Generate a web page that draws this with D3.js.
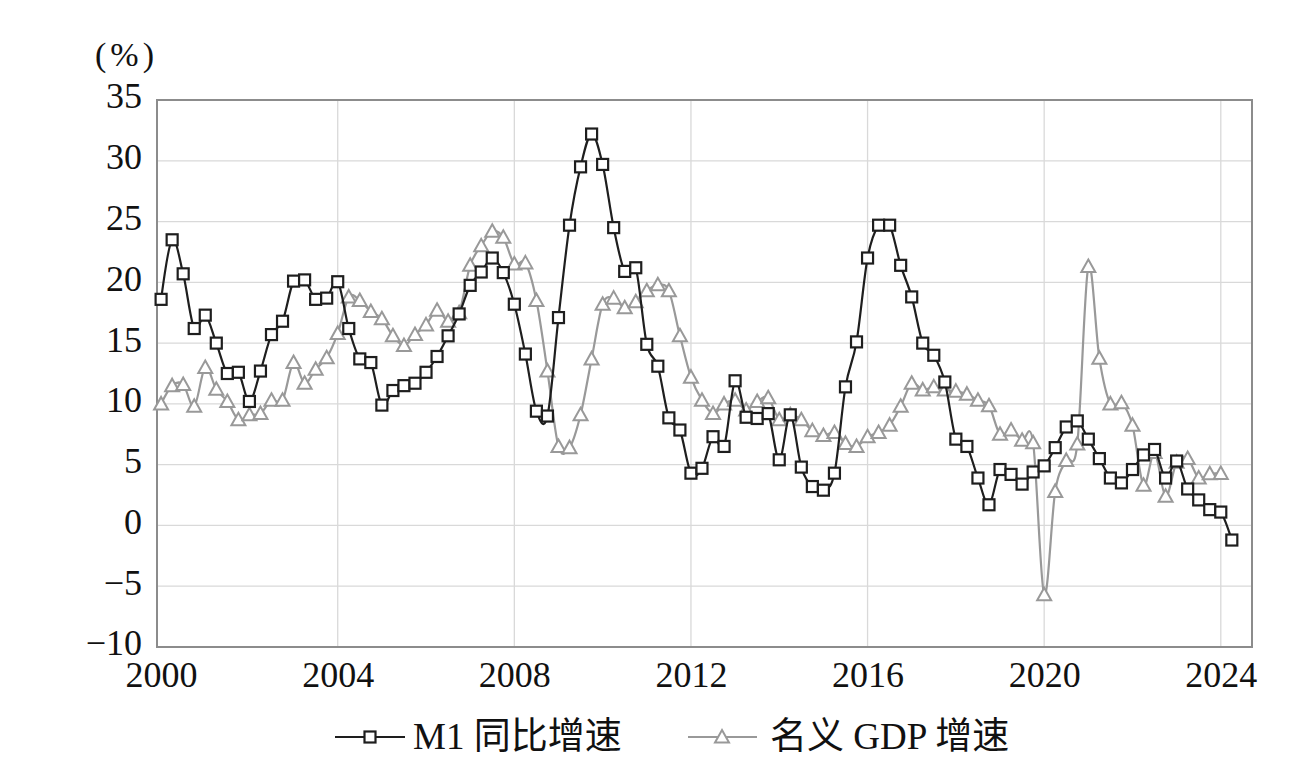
<!DOCTYPE html>
<html>
<head>
<meta charset="utf-8">
<script src="https://cdn.jsdelivr.net/npm/d3@7"></script>
<style>
  html, body { margin: 0; padding: 0; background: #ffffff; }
  svg { display: block; }
  text { font-family: "Liberation Serif", "Noto Sans CJK SC", serif; fill: #111111; }
</style>
</head>
<body>
<svg id="chart" width="1299" height="773"></svg>
<script>
// ---------------- DATA ----------------
const startYear = 2000;          // first quarter plotted (2000 Q1)
const quarterStep = 0.25;        // quarterly data
const seriesNames = ["M1 同比增速", "名义 GDP 增速"];
const yTicks = [-10, -5, 0, 5, 10, 15, 20, 25, 30, 35];
const yTickLabels = ["−10", "−5", "0", "5", "10", "15", "20", "25", "30", "35"];
const xTicks = [2000, 2004, 2008, 2012, 2016, 2020, 2024];
const xTickLabels = ["2000", "2004", "2008", "2012", "2016", "2020", "2024"];
const unitLabel = "(%)";

// M1 year-on-year growth, 2000Q1 – 2024Q2
const m1Values = [
  18.6, 23.5, 20.7, 16.2,
  17.3, 15.0, 12.5, 12.6,
  10.2, 12.7, 15.7, 16.8,
  20.1, 20.2, 18.6, 18.7,
  20.05, 16.2, 13.7, 13.4,
  9.9, 11.1, 11.5, 11.7,
  12.6, 13.9, 15.6, 17.4,
  19.75, 20.85, 22.0, 20.8,
  18.2, 14.1, 9.4, 9.0,
  17.1, 24.7, 29.5, 32.2,
  29.7, 24.5, 20.9, 21.2,
  14.9, 13.1, 8.85, 7.85,
  4.3, 4.7, 7.3, 6.5,
  11.9, 8.9, 8.8, 9.2,
  5.4, 9.1, 4.8, 3.2,
  2.9, 4.3, 11.4, 15.1,
  22.0, 24.7, 24.7, 21.4,
  18.8, 15.0, 14.0, 11.8,
  7.1, 6.5, 3.9, 1.7,
  4.6, 4.2, 3.4, 4.4,
  4.9, 6.4, 8.1, 8.6,
  7.1, 5.5, 3.9, 3.5,
  4.6, 5.8, 6.25, 3.9,
  5.3, 3.0, 2.1, 1.3,
  1.1, -1.2
];

// Nominal GDP growth, 2000Q1 – 2024Q1
const gdpValues = [
  10.0, 11.5, 11.6, 9.8,
  13.0, 11.2, 10.2, 8.7,
  9.1, 9.2, 10.3, 10.3,
  13.4, 11.7, 12.85, 13.8,
  15.8, 18.8, 18.5, 17.6,
  17.0, 15.6, 14.8, 15.7,
  16.5, 17.7, 16.8, 17.5,
  21.4, 23.0, 24.2, 23.7,
  21.5, 21.6, 18.5, 12.7,
  6.5, 6.4, 9.1, 13.7,
  18.2, 18.7, 17.9, 18.4,
  19.3, 19.8, 19.3, 15.6,
  12.2, 10.3, 9.2, 10.0,
  10.3, 9.5, 10.2, 10.5,
  8.7, 9.1, 8.7, 7.8,
  7.4, 7.65, 6.75, 6.5,
  7.3, 7.65, 8.25, 9.8,
  11.7, 11.15, 11.4, 11.15,
  11.05, 10.8, 10.3, 9.85,
  7.5, 7.85, 7.0, 6.8,
  -5.7, 2.8, 5.35, 6.7,
  21.3, 13.75, 10.0, 10.1,
  8.25, 3.3, 6.0, 2.4,
  5.2, 5.5, 3.9, 4.25,
  4.27
];

// ---------------- CHART ----------------
const svg = d3.select("#chart");
const plot = { left: 157, right: 1252, top: 100, bottom: 647 };

const x = d3.scaleLinear().domain([1999.907, 2024.707]).range([plot.left, plot.right]);
const y = d3.scaleLinear().domain([-10, 35]).range([plot.bottom, plot.top]);

const toPoints = vals => vals.map((v, i) => ({ t: startYear + i * quarterStep, v }));
const m1 = toPoints(m1Values);
const gdp = toPoints(gdpValues);

// gridlines
const grid = svg.append("g");
grid.selectAll("line.h").data(yTicks).enter().append("line")
  .attr("x1", plot.left).attr("x2", plot.right)
  .attr("y1", d => y(d)).attr("y2", d => y(d))
  .attr("stroke", "#d9d9d9").attr("stroke-width", 1.3);
grid.selectAll("line.v").data(xTicks.filter(d => d > startYear)).enter().append("line")
  .attr("y1", plot.top).attr("y2", plot.bottom)
  .attr("x1", d => x(d)).attr("x2", d => x(d))
  .attr("stroke", "#d9d9d9").attr("stroke-width", 1.3);

// plot border
svg.append("rect")
  .attr("x", plot.left).attr("y", plot.top)
  .attr("width", plot.right - plot.left).attr("height", plot.bottom - plot.top)
  .attr("fill", "none").attr("stroke", "#8c8c8c").attr("stroke-width", 2);

// axes (labels only)
const yAxis = d3.axisLeft(y).tickValues(yTicks).tickSize(0).tickPadding(15)
  .tickFormat((d, i) => yTickLabels[i]);
const gy = svg.append("g").attr("transform", `translate(${plot.left},0)`).call(yAxis);
gy.select(".domain").remove();
gy.selectAll("text").attr("font-size", 36).attr("dy", "0.22em")
  .style("font-family", '"Liberation Serif", serif').attr("fill", "#111");

const xAxis = d3.axisBottom(x).tickValues(xTicks).tickSize(0).tickPadding(18)
  .tickFormat((d, i) => xTickLabels[i]);
const gx = svg.append("g").attr("transform", `translate(0,${plot.bottom})`).call(xAxis);
gx.select(".domain").remove();
gx.selectAll("text").attr("font-size", 36).attr("dy", "0.62em")
  .style("font-family", '"Liberation Serif", serif').attr("fill", "#111");

// unit label
svg.append("text").attr("x", 95).attr("y", 66)
  .attr("font-size", 34).attr("letter-spacing", 4).text(unitLabel);

// lines
const line = d3.line().x(d => x(d.t)).y(d => y(d.v)).curve(d3.curveCardinal.tension(0));

const triPath = "M0,-7 L7,5.5 L-7,5.5 Z";
const gdpColor = "#999999";
const m1Color = "#1e1e1e";

// GDP series (drawn first, underneath)
svg.append("path").datum(gdp).attr("d", line)
  .attr("fill", "none").attr("stroke", gdpColor).attr("stroke-width", 2.2);
svg.append("g").selectAll("path").data(gdp).enter().append("path")
  .attr("d", triPath)
  .attr("transform", d => `translate(${x(d.t)},${y(d.v)})`)
  .attr("fill", "#ffffff").attr("stroke", gdpColor).attr("stroke-width", 2);

// M1 series
svg.append("path").datum(m1).attr("d", line)
  .attr("fill", "none").attr("stroke", m1Color).attr("stroke-width", 2.2);
svg.append("g").selectAll("rect").data(m1).enter().append("rect")
  .attr("x", d => x(d.t) - 5.5).attr("y", d => y(d.v) - 5.5)
  .attr("width", 11).attr("height", 11)
  .attr("fill", "#ffffff").attr("stroke", m1Color).attr("stroke-width", 2.2);

// legend
const legY = 737;
const leg = svg.append("g");
// M1
leg.append("line").attr("x1", 335).attr("x2", 405).attr("y1", legY).attr("y2", legY)
  .attr("stroke", m1Color).attr("stroke-width", 2.2);
leg.append("rect").attr("x", 364.5).attr("y", legY - 5.5).attr("width", 11).attr("height", 11)
  .attr("fill", "#fff").attr("stroke", m1Color).attr("stroke-width", 2.2);
leg.append("text").attr("x", 413).attr("y", legY + 12).attr("font-size", 37).text(seriesNames[0]);
// GDP
leg.append("line").attr("x1", 688).attr("x2", 757).attr("y1", legY).attr("y2", legY)
  .attr("stroke", gdpColor).attr("stroke-width", 2.2);
leg.append("path").attr("d", triPath).attr("transform", `translate(722,${legY})`)
  .attr("fill", "#fff").attr("stroke", gdpColor).attr("stroke-width", 2);
leg.append("text").attr("x", 770).attr("y", legY + 12).attr("font-size", 37).text(seriesNames[1]);
</script>
</body>
</html>
